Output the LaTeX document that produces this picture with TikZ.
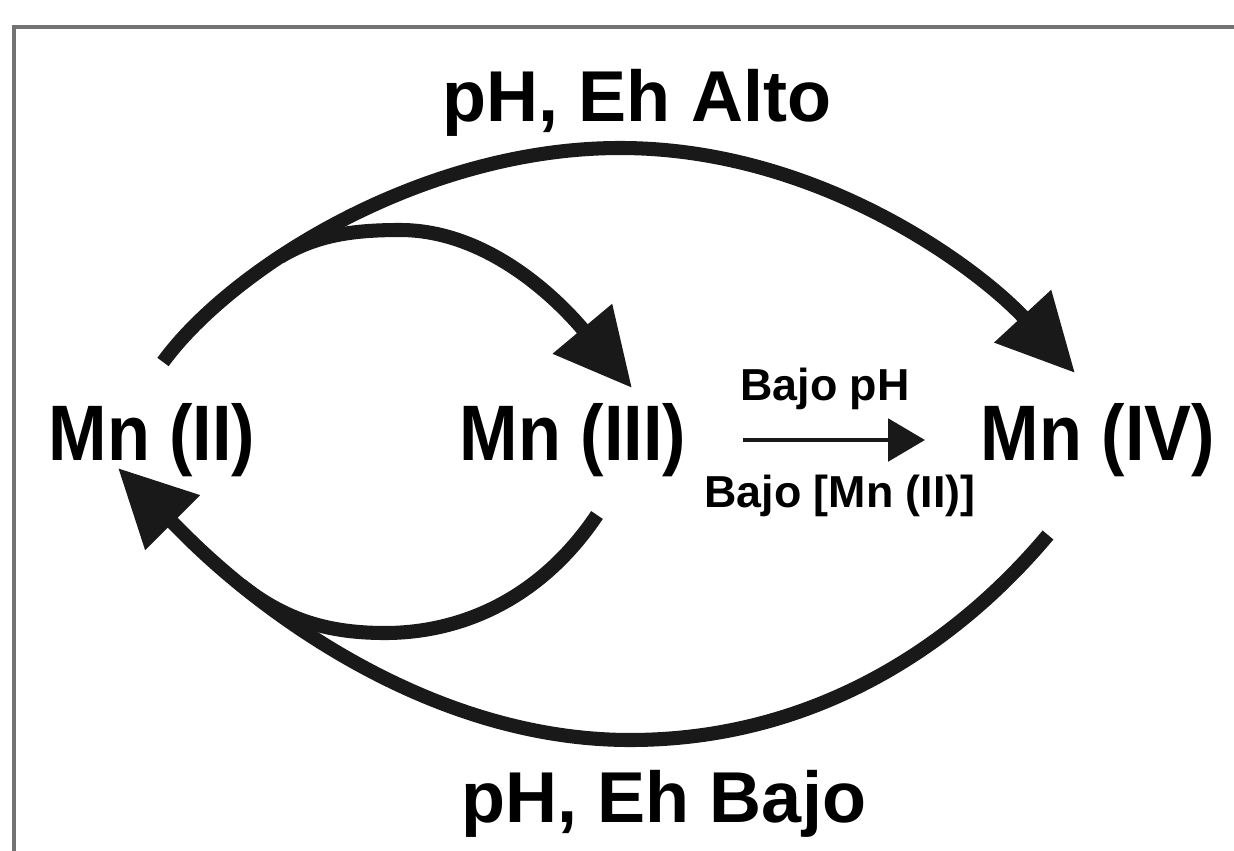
\documentclass[tikz,border=0pt]{standalone}
\usepackage{graphicx}
\usepackage{fontspec}
\setmainfont{Liberation Sans}
\usetikzlibrary{arrows.meta}

\newcommand{\tallmn}[1]{\scalebox{1}[1.12]{#1}}

\tikzset{
  state/.style={font=\fontsize{40}{42}\selectfont\bfseries, inner sep=0pt, anchor=base},
  cond/.style={font=\fontsize{41}{43}\selectfont\bfseries, inner sep=0pt, anchor=base},
  smallcond/.style={font=\fontsize{25.5}{27}\selectfont\bfseries, inner sep=0pt, anchor=base},
  bigline/.style={line width=8pt, draw=black!90},
  bigarrow/.style={bigline, -{Triangle[length=44pt,width=42pt]}},
  thinarrow/.style={line width=2.8pt, draw=black!90, -{Triangle[length=21pt,width=24pt]}},
  frame/.style={draw=black!55, line width=1.8pt}
}

\begin{document}
\begin{tikzpicture}[x=0.02cm, y=-0.02cm]
\useasboundingbox (0,0) rectangle (1234,851);

% Frame (open on the right and bottom)
\draw[frame] (14,851) |- (1234,27);

% Oxidation states
\node[state] (Mn2) at (152,460) {\tallmn{Mn (II)}};
\node[state] (Mn3) at (573,460) {\tallmn{Mn (III)}};
\node[state] (Mn4) at (1098,460) {\tallmn{Mn (IV)}};

% Conditions
\node[cond] (alto) at (637,122) {pH, Eh Alto};
\node[cond] (bajo) at (664,822) {pH, Eh Bajo};
\node[smallcond] (bajopH) at (825,400) {Bajo pH};
\node[smallcond] (bajoMn) at (840,507) {Bajo [Mn (II)]};

% Oxidation arcs
\draw[bigarrow] ([shift={(11,-98)}]Mn2.base)
  .. controls (230,270) and (420,148) .. (620,148)
  .. controls (820,148) and (980,270) .. ([shift={(-23,-87)}]Mn4.base);
\coordinate (fork) at (280,257);
\draw[bigarrow] (fork)
  .. controls (315,236) and (350,230) .. (400,230)
  .. controls (500,230) and (575,320) .. ([shift={(59,-72)}]Mn3.base);

% Reduction arcs
\draw[bigarrow] ([shift={(-50,75)}]Mn4.base)
  .. controls (960,640) and (820,740) .. (630,740)
  .. controls (430,740) and (260,610) .. (185,535)
  -- ([shift={(-34,8)}]Mn2.base);
\coordinate (merge) at (241,585);
\draw[bigline] ([shift={(24,55)}]Mn3.base)
  .. controls (540,600) and (460,633) .. (385,633)
  .. controls (330,633) and (286,621) .. (merge);

% Mn(III) -> Mn(IV)
\draw[thinarrow] ([shift={(170,-20)}]Mn3.base) -- ([shift={(-173,-20)}]Mn4.base);
\end{tikzpicture}
\end{document}
